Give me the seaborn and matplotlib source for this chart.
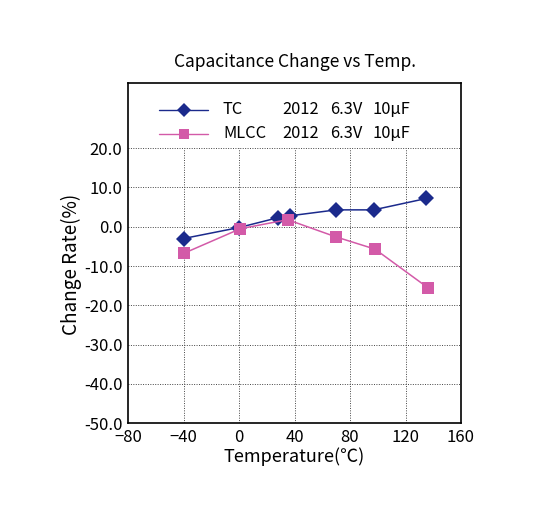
import numpy as np
import pandas as pd
import matplotlib
matplotlib.use('Agg')
import matplotlib.pyplot as plt
import seaborn as sns

# values
tc_temp = [-40, 0, 28, 37, 70, 97, 135]
tc_rate = [-3.0, -0.2, 2.3, 2.8, 4.3, 4.3, 7.2]
mlcc_temp = [-40, 1, 35, 70, 98, 136]
mlcc_rate = [-6.8, -0.5, 1.8, -2.6, -5.7, -15.5]

series_names = ['TC', 'MLCC']
series_specs = ['2012', '6.3V', '10\u03bcF']
x_ticks = [-80, -40, 0, 40, 80, 120, 160]
y_ticks = [-50, -40, -30, -20, -10, 0, 10, 20]

tc_color = '#1b2a8c'
mlcc_color = '#d35aa8'

df = pd.concat([
    pd.DataFrame({'Temp': tc_temp, 'Rate': tc_rate, 'Type': 'TC'}),
    pd.DataFrame({'Temp': mlcc_temp, 'Rate': mlcc_rate, 'Type': 'MLCC'}),
])

sns.set_style('white')
plt.rcParams['font.family'] = ['Noto Sans CJK JP', 'DejaVu Sans']
plt.rcParams['text.color'] = 'black'
plt.rcParams['axes.labelcolor'] = 'black'
plt.rcParams['xtick.color'] = 'black'
plt.rcParams['ytick.color'] = 'black'

fig = plt.figure(figsize=(5.49, 5.12), dpi=100)
ax = fig.add_axes([0.2332, 0.1738, 0.6065, 0.6647])

# grid: dotted, only up to 20
for xv in x_ticks[1:-1]:
    ax.plot([xv, xv], [y_ticks[0], y_ticks[-1]], color='#444444', lw=0.7, ls=(0, (1, 1.5)), zorder=0)
for yv in y_ticks[1:]:
    ax.plot([x_ticks[0], x_ticks[-1]], [yv, yv], color='#444444', lw=0.7, ls=(0, (1, 1.5)), zorder=0)

sns.lineplot(data=df, x='Temp', y='Rate', hue='Type', style='Type',
             palette={'TC': tc_color, 'MLCC': mlcc_color},
             markers={'TC': 'D', 'MLCC': 's'}, dashes=False,
             markersize=8, markeredgewidth=0, linewidth=1.1,
             sort=False, legend=False, ax=ax)

ax.set_xlim(x_ticks[0], x_ticks[-1])
ax.set_ylim(-50, 36.7)
ax.set_xticks(x_ticks)
ax.set_yticks(y_ticks)
ax.set_yticklabels([f'{v:.1f}' for v in y_ticks])
ax.tick_params(axis='y', length=0, labelsize=12, pad=4)
ax.tick_params(axis='x', length=0, labelsize=12, pad=4)
for sp in ax.spines.values():
    sp.set_color('black')
    sp.set_linewidth(1.2)

ax.set_xlabel('Temperature(\u2103)', fontsize=13, labelpad=1)
ax.set_ylabel('Change Rate(%)', fontsize=13.6)
ax.yaxis.set_label_coords(-0.137, 0.467)
ax.set_title('Capacitance Change vs Temp.', fontsize=12.5, pad=11)

# legend drawn as a small table inside the axes
colors = [tc_color, mlcc_color]
marks = ['D', 's']
row_y = [0.92, 0.85]
for name, c, m, yy in zip(series_names, colors, marks, row_y):
    ax.plot([0.094, 0.241], [yy, yy], transform=ax.transAxes, color=c, lw=1.0)
    ax.plot([0.169], [yy], transform=ax.transAxes, color=c, marker=m,
            markersize=7, markeredgewidth=0)
    ax.text(0.285, yy, name, transform=ax.transAxes, fontsize=11.8, va='center')
    for spec, xx in zip(series_specs, [0.462, 0.607, 0.733]):
        ax.text(xx, yy, spec, transform=ax.transAxes, fontsize=11.8, va='center')

fig.savefig('out.png', dpi=100)
